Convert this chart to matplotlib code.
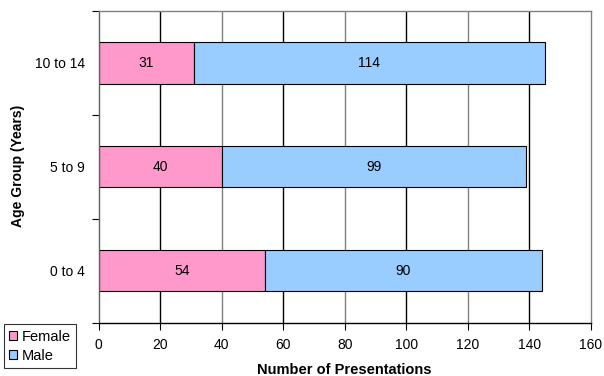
import matplotlib
matplotlib.use("Agg")
import matplotlib.pyplot as plt
import numpy as np

age_groups = ['0 to 4', '5 to 9', '10 to 14']
female = [54, 40, 31]
male = [90, 99, 114]
x_ticks = [0, 20, 40, 60, 80, 100, 120, 140, 160]

plt.rcParams['font.family'] = ['Liberation Sans', 'DejaVu Sans']

fig = plt.figure(figsize=(6.04, 3.76), dpi=100)
ax = fig.add_axes([0.1634, 0.1418, 0.8146, 0.8297])

y = np.arange(len(age_groups))
h = 0.4

# vertical grid lines
for i, t in enumerate(x_ticks[1:-1]):
    col = 'black' if i % 2 == 0 else '#808080'
    ax.axvline(t, color=col, lw=1, zorder=0)

bf = ax.barh(y, female, height=h, color='#FF99CC', edgecolor='black', lw=0.8, label='Female', zorder=2)
bm = ax.barh(y, male, left=female, height=h, color='#99CCFF', edgecolor='black', lw=0.8, label='Male', zorder=2)

for i in range(len(age_groups)):
    ax.text(female[i] / 2, y[i], str(female[i]), ha='center', va='center', fontsize=10)
    ax.text(female[i] + male[i] / 2, y[i], str(male[i]), ha='center', va='center', fontsize=10)

ax.set_xlim(0, 160)
ax.set_ylim(-0.5, 2.5)
ax.set_xticks(x_ticks)
ax.set_xticklabels([str(t) for t in x_ticks], fontsize=10)
ax.set_yticks([-0.5, 0.5, 1.5, 2.5])
ax.set_yticklabels([])
ax.set_yticks(y, minor=True)
ax.set_yticklabels(age_groups, minor=True, fontsize=10)
ax.tick_params(axis='y', which='minor', length=0, pad=10)
ax.tick_params(axis='y', which='major', length=5, color='black', width=0.8)
ax.tick_params(axis='x', length=5, width=0.8, pad=6)

ax.spines['top'].set_color('#808080')
ax.spines['right'].set_color('#808080')
ax.spines['left'].set_color('#606060')
ax.spines['bottom'].set_color('black')
for s in ax.spines.values():
    s.set_linewidth(1)

ax.set_xlabel('Number of Presentations', fontsize=10.5, fontweight='bold', labelpad=8)
fig.text(0.030, 0.558, 'Age Group (Years)', fontsize=10, fontweight='bold',
         rotation=90, ha='center', va='center')

leg = fig.legend(handles=[bf, bm], loc='lower left', bbox_to_anchor=(0.006, 0.022),
                 fontsize=10.5, frameon=True, fancybox=False, edgecolor='black',
                 handlelength=0.6, handleheight=0.6, handletextpad=0.3,
                 borderpad=0.35, labelspacing=0.35, borderaxespad=0)
leg.get_frame().set_linewidth(0.8)

fig.savefig('out.png', dpi=100)
